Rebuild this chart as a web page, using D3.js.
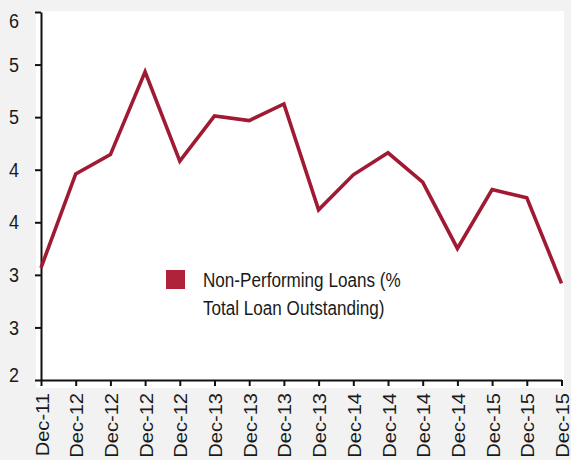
<!DOCTYPE html>
<html>
<head>
<meta charset="utf-8">
<script src="https://cdn.jsdelivr.net/npm/d3@7"></script>
<style>
  html, body { margin: 0; padding: 0; background: #f2f2f2; }
  svg { display: block; }
  text { font-family: "Liberation Sans", Arial, sans-serif; fill: #1a1a1a; }
</style>
</head>
<body>
<svg id="chart" width="571" height="460"></svg>
<script>
// Quarterly periods shown on the category axis
const periods = ["Dec-11", "Dec-12", "Dec-12", "Dec-12", "Dec-12",
                 "Dec-13", "Dec-13", "Dec-13", "Dec-13",
                 "Dec-14", "Dec-14", "Dec-14", "Dec-14",
                 "Dec-15", "Dec-15", "Dec-15"];

// Non-performing loans, % of total loans outstanding
const nplRatio = [3.22, 4.24, 4.45, 5.35, 4.38, 4.87, 4.82, 5.00,
                  3.85, 4.23, 4.47, 4.15, 3.43, 4.07, 3.98, 3.05];

// Value axis: 2 to 6 split in seven steps, labels rounded to whole numbers
const yTickValues = d3.range(8).map(i => 2 + i * 4 / 7);
const yTickLabels = ["2", "3", "3", "4", "4", "5", "5", "6"];

const seriesName = ["Non-Performing Loans (%", "Total Loan Outstanding)"];

const svg = d3.select("#chart");
const stretch = 1.15; // tall, condensed lettering

// plot panel
svg.append("rect")
  .attr("x", 36).attr("y", 11)
  .attr("width", 528).attr("height", 377)
  .attr("fill", "#ffffff");

const x = d3.scalePoint()
  .domain(d3.range(periods.length))
  .range([41, 561.5]);

const y = d3.scaleLinear()
  .domain([2, 6])
  .range([380, 12]);

// y axis
const yAxis = svg.append("g")
  .attr("transform", "translate(41,0)")
  .call(d3.axisLeft(y)
    .tickValues(yTickValues)
    .tickSize(6)
    .tickSizeOuter(0)
    .tickPadding(16)
    .tickFormat((d, i) => yTickLabels[i]));

yAxis.select(".domain").attr("stroke", "#111").attr("stroke-width", 2);
yAxis.selectAll(".tick line").attr("stroke", "#111").attr("stroke-width", 2);
yAxis.selectAll(".tick text")
  .attr("font-size", 18)
  .attr("font-family", "Liberation Sans, Arial, sans-serif")
  .attr("fill", "#1a1a1a")
  .attr("transform", (d, i) => {
    // keep the end labels inside the panel edges
    const shift = i === yTickValues.length - 1 ? 9 : (i === 0 ? -5 : 0);
    return `translate(0,${shift}) scale(1,${stretch})`;
  });

// x axis
const xAxis = svg.append("g")
  .attr("transform", "translate(0,380)")
  .call(d3.axisBottom(x)
    .tickSize(6)
    .tickSizeOuter(0)
    .tickFormat(i => periods[i]));

xAxis.select(".domain").attr("stroke", "#111").attr("stroke-width", 2);
xAxis.selectAll(".tick line").attr("stroke", "#111").attr("stroke-width", 2);
xAxis.selectAll(".tick text")
  .attr("font-size", 17.5)
  .attr("font-family", "Liberation Sans, Arial, sans-serif")
  .attr("fill", "#1a1a1a")
  .attr("text-anchor", "end")
  .attr("x", -13 / stretch)
  .attr("y", 0)
  .attr("dy", "0.4em")
  .attr("transform", `rotate(-90) scale(${stretch},1)`);

// series line
const line = d3.line()
  .x((d, i) => x(i))
  .y(d => y(d));

svg.append("path")
  .datum(nplRatio)
  .attr("d", line)
  .attr("fill", "none")
  .attr("stroke", "#9f1a32")
  .attr("stroke-width", 3.6)
  .attr("stroke-linejoin", "miter");

// legend
const legend = svg.append("g");
legend.append("rect")
  .attr("x", 166).attr("y", 270)
  .attr("width", 19).attr("height", 19)
  .attr("fill", "#b0223a");

legend.selectAll("text")
  .data(seriesName)
  .join("text")
  .attr("transform", (d, i) => `translate(203,${287 + i * 28}) scale(0.95,1.17)`)
  .attr("font-size", 18)
  .text(d => d);
</script>
</body>
</html>
